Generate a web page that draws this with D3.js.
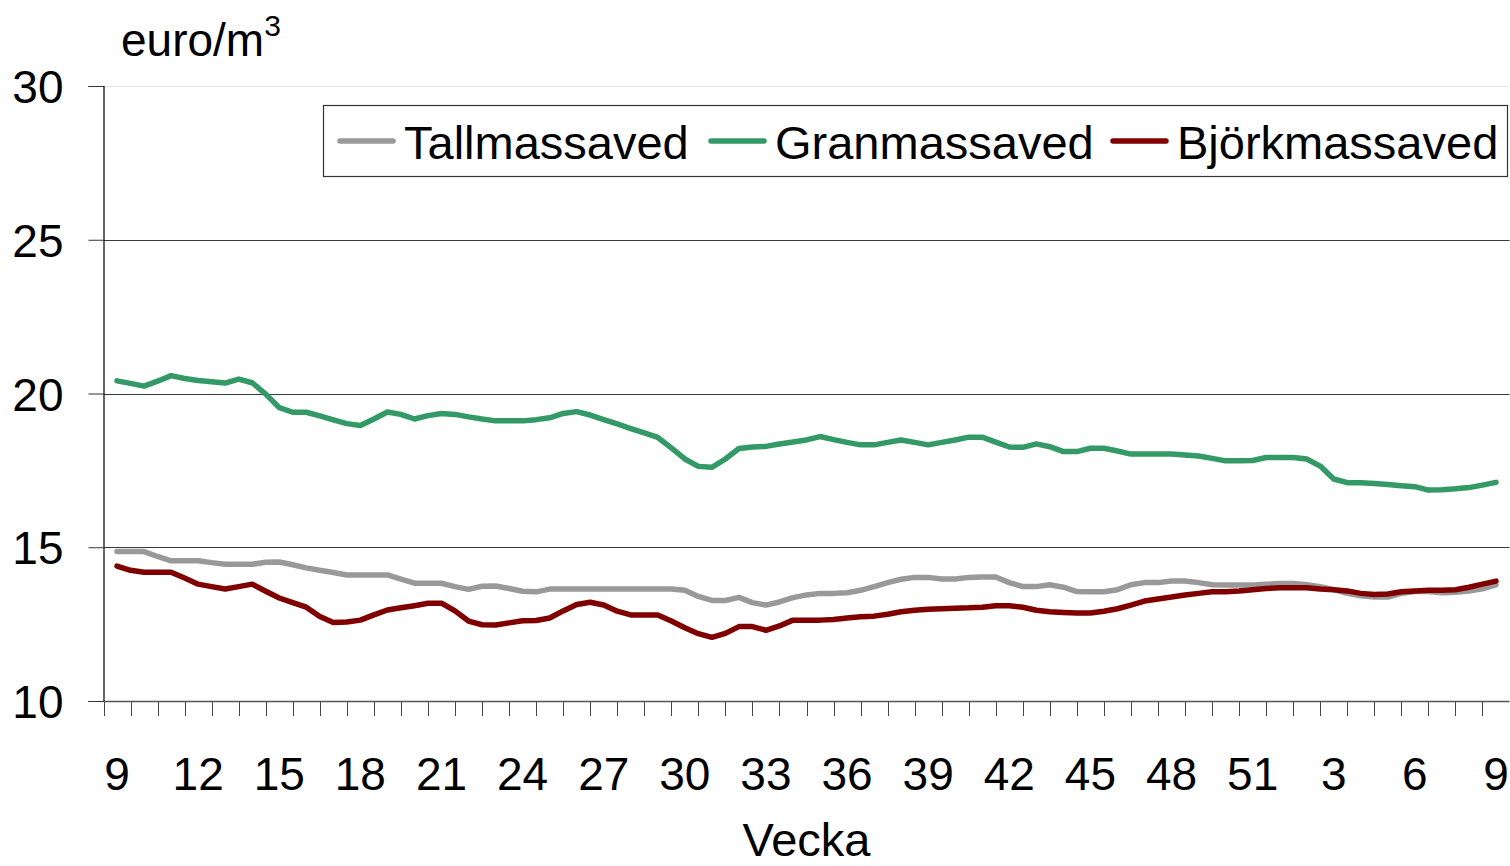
<!DOCTYPE html>
<html>
<head>
<meta charset="utf-8">
<script src="https://cdn.jsdelivr.net/npm/d3@7/dist/d3.min.js"></script>
<style>
  html, body { margin: 0; padding: 0; background: #fff; }
  svg { display: block; font-family: "Liberation Sans", Arial, sans-serif; }
</style>
</head>
<body>
<svg id="chart" width="1510" height="866"></svg>
<script>
// Week numbers along the category axis (week 52 has no quotation)
const weeks = [9,10,11,12,13,14,15,16,17,18,19,20,21,22,23,24,25,26,27,28,29,30,31,32,33,34,35,36,37,38,39,40,41,42,43,44,45,46,47,48,49,50,51,1,2,3,4,5,6,7,8,9];

// Prices in euro/m3, quoted twice a week (first value at week 9, last at week 9 the following year)
const tallmassaved = [
  14.86,14.86,14.86,14.70,14.56,14.56,14.56,14.50,14.45,14.45,14.45,14.51,14.52,14.43,14.33,14.25,14.18,14.10,14.10,14.10,
  14.10,13.96,13.83,13.83,13.83,13.72,13.63,13.73,13.74,13.66,13.57,13.55,13.64,13.64,13.64,13.64,13.64,13.64,13.64,13.64,
  13.64,13.64,13.60,13.40,13.27,13.27,13.37,13.20,13.12,13.22,13.36,13.45,13.50,13.50,13.52,13.60,13.72,13.85,13.96,14.02,
  14.02,13.97,13.97,14.02,14.03,14.03,13.85,13.72,13.72,13.78,13.70,13.56,13.55,13.55,13.62,13.78,13.85,13.85,13.90,13.90,
  13.85,13.78,13.77,13.77,13.77,13.80,13.82,13.82,13.78,13.72,13.62,13.50,13.42,13.38,13.38,13.50,13.56,13.56,13.52,13.54,
  13.58,13.65,13.78
];
const granmassaved = [
  20.41,20.33,20.24,20.40,20.58,20.49,20.42,20.38,20.34,20.47,20.35,19.98,19.54,19.39,19.39,19.27,19.14,19.02,18.96,19.17,
  19.40,19.32,19.17,19.28,19.35,19.32,19.24,19.17,19.11,19.11,19.11,19.15,19.21,19.35,19.41,19.30,19.15,19.01,18.86,18.72,
  18.57,18.23,17.87,17.63,17.60,17.87,18.21,18.26,18.28,18.36,18.42,18.49,18.60,18.50,18.41,18.33,18.33,18.41,18.49,18.41,
  18.33,18.41,18.49,18.58,18.58,18.42,18.26,18.25,18.36,18.27,18.11,18.11,18.22,18.22,18.13,18.03,18.03,18.03,18.03,18.00,
  17.97,17.89,17.81,17.81,17.82,17.92,17.92,17.92,17.87,17.64,17.22,17.10,17.10,17.07,17.04,17.00,16.97,16.86,16.87,16.90,
  16.94,17.02,17.11
];
const bjorkmassaved = [
  14.39,14.25,14.19,14.19,14.19,14.00,13.80,13.72,13.64,13.72,13.80,13.57,13.35,13.20,13.05,12.75,12.55,12.57,12.63,12.80,
  12.96,13.03,13.10,13.18,13.18,12.93,12.60,12.48,12.47,12.54,12.61,12.62,12.70,12.93,13.14,13.21,13.12,12.92,12.80,12.80,
  12.80,12.60,12.38,12.19,12.07,12.20,12.42,12.42,12.30,12.44,12.63,12.63,12.63,12.65,12.70,12.74,12.76,12.82,12.90,12.95,
  12.98,13.00,13.02,13.03,13.05,13.10,13.10,13.05,12.95,12.90,12.88,12.86,12.86,12.92,13.00,13.12,13.25,13.32,13.38,13.45,
  13.50,13.55,13.55,13.58,13.62,13.66,13.68,13.68,13.68,13.64,13.62,13.58,13.50,13.46,13.48,13.55,13.58,13.60,13.60,13.62,
  13.70,13.80,13.90
];
const seriesNames = ["Tallmassaved", "Granmassaved", "Björkmassaved"];
const seriesColors = ["#999999", "#339966", "#800000"];
const yTicks = [10, 15, 20, 25, 30];
const yUnit = "euro/m";
const xTitle = "Vecka";

const svg = d3.select("#chart");
const plot = { left: 103.5, right: 1509.5, top: 86, bottom: 701 };

// Category axis: one band per week; series points sit at half-week steps
const x = d3.scaleLinear().domain([0, weeks.length]).range([plot.left, plot.right]);
const y = d3.scaleLinear().domain([10, 30]).range([plot.bottom, plot.top]);

// Horizontal gridlines
svg.append("g").selectAll("line")
  .data(yTicks.filter(v => v > 10))
  .join("line")
  .attr("x1", plot.left).attr("x2", plot.right)
  .attr("y1", d => Math.round(y(d)) + 0.5).attr("y2", d => Math.round(y(d)) + 0.5)
  .attr("stroke", d => d === 30 ? "#e4e4e4" : "#3a3a3a")
  .attr("stroke-width", 1);

// Y axis
const yAxis = d3.axisLeft(y).tickValues(yTicks).tickSize(15).tickPadding(25).tickFormat(d3.format("d"));
const gy = svg.append("g").attr("transform", `translate(${plot.left},0)`).call(yAxis);
gy.select(".domain").attr("stroke", "#000").attr("stroke-width", 1.2);
gy.selectAll(".tick line").attr("stroke", "#333");
gy.selectAll(".tick text")
  .attr("font-size", 46).attr("fill", "#000")
  .attr("font-family", "Liberation Sans, Arial, sans-serif")
  .attr("dy", "0.36em");

// X axis: tick marks between the weeks, labels every third week
const tickPos = d3.range(weeks.length + 1);
svg.append("g").selectAll("line")
  .data(tickPos)
  .join("line")
  .attr("x1", d => Math.round(x(d)) + 0.5).attr("x2", d => Math.round(x(d)) + 0.5)
  .attr("y1", plot.bottom).attr("y2", plot.bottom + 15)
  .attr("stroke", "#444").attr("stroke-width", 1);
svg.append("line")
  .attr("x1", plot.left).attr("x2", plot.right)
  .attr("y1", plot.bottom + 0.5).attr("y2", plot.bottom + 0.5)
  .attr("stroke", "#555").attr("stroke-width", 1.3);

svg.append("g").selectAll("text")
  .data(weeks.map((w, i) => ({ w, i })).filter(d => d.i % 3 === 0))
  .join("text")
  .attr("x", d => x(d.i + 0.5))
  .attr("y", 790)
  .attr("text-anchor", "middle")
  .attr("font-size", 46)
  .text(d => d.w);

// Axis titles
const unit = svg.append("text").attr("x", 121).attr("y", 56).attr("font-size", 46).text(yUnit);
unit.append("tspan").attr("font-size", 30).attr("dy", -20).text("3");
svg.append("text").attr("x", x(weeks.length / 2)).attr("y", 856)
  .attr("text-anchor", "middle").attr("font-size", 47).text(xTitle);

// Series lines
const allSeries = [tallmassaved, granmassaved, bjorkmassaved];
const line = d3.line()
  .x((d, k) => x(k * 0.5 + 0.5))
  .y(d => y(d));
svg.append("g").selectAll("path")
  .data(allSeries)
  .join("path")
  .attr("d", d => line(d))
  .attr("fill", "none")
  .attr("stroke", (d, i) => seriesColors[i])
  .attr("stroke-width", 5.5)
  .attr("stroke-linejoin", "round")
  .attr("stroke-linecap", "round");

// Legend
const legend = svg.append("g");
legend.append("rect")
  .attr("x", 323.5).attr("y", 105.5).attr("width", 1184).attr("height", 71)
  .attr("fill", "#fff").attr("stroke", "#333").attr("stroke-width", 1.2);
const legendX = [338, 709, 1111];
const items = legend.selectAll("g.item")
  .data(seriesNames)
  .join("g").attr("class", "item")
  .attr("transform", (d, i) => `translate(${legendX[i]},0)`);
items.append("line")
  .attr("x1", 2).attr("x2", 55).attr("y1", 141).attr("y2", 141)
  .attr("stroke", (d, i) => seriesColors[i])
  .attr("stroke-width", 5.5).attr("stroke-linecap", "round");
items.append("text")
  .attr("x", 66).attr("y", 159)
  .attr("font-size", 47)
  .text(d => d);
</script>
</body>
</html>
